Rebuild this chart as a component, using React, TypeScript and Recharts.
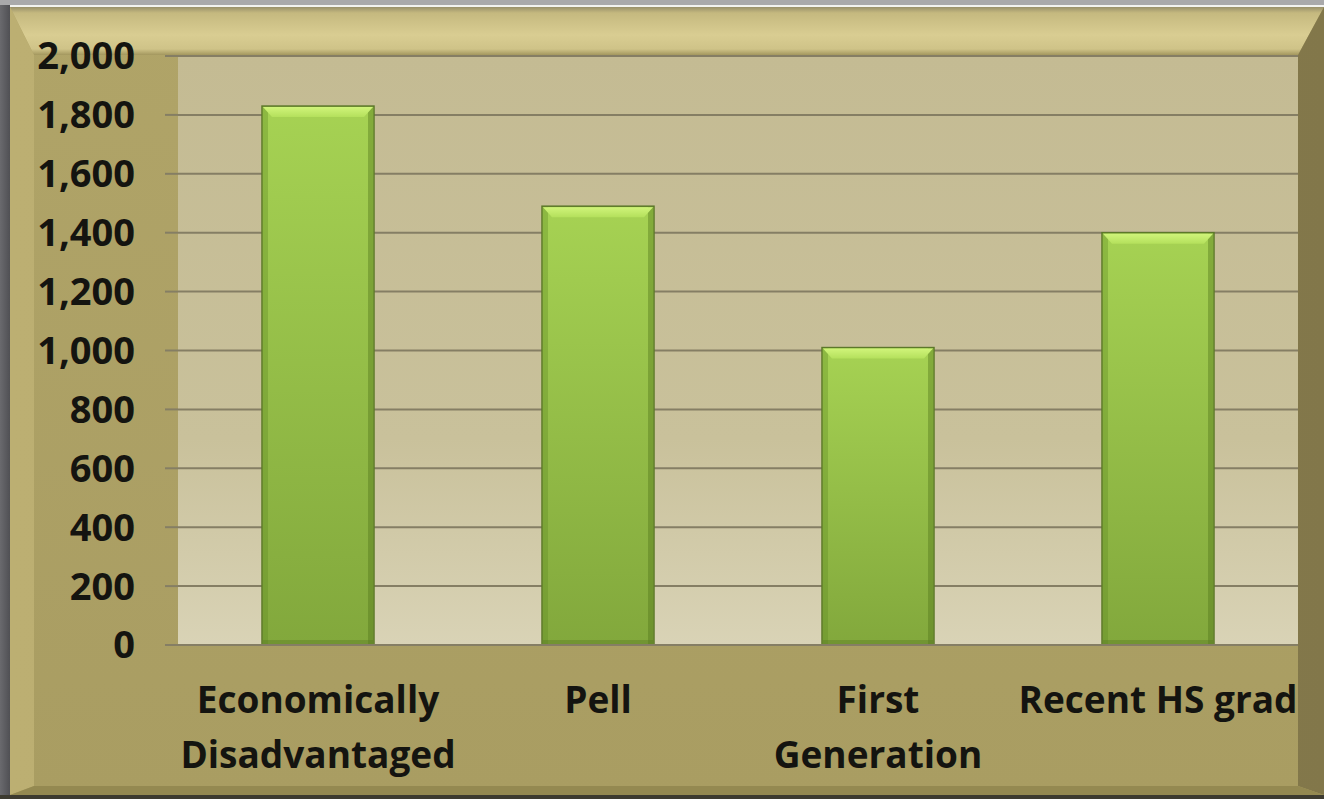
import { BarChart, Bar, XAxis, YAxis, CartesianGrid } from 'recharts'

// values
const categories = ['Economically\nDisadvantaged', 'Pell', 'First\nGeneration', 'Recent HS grad']
const students = [1830, 1490, 1010, 1400]
const yTicks = [0, 200, 400, 600, 800, 1000, 1200, 1400, 1600, 1800, 2000]

const chartData = categories.map((name, i) => ({ name, value: students[i] }))

const FONT = "'Open Sans', sans-serif"

const formatNum = (v: number) => v.toLocaleString('en-US')

// bevelled green bar, like the office "bevel" shape effect
const BevelBar = (props: any) => {
  const { x, y, width, height } = props
  if (!height || height <= 0) return null
  const b = 9
  return (
    <g>
      <rect x={x} y={y} width={width} height={height} fill="url(#barBody)" stroke="#5c7829" strokeWidth={1.5} />
      <rect x={x + 1} y={y + 1} width={5} height={height - 2} fill="#5f8a22" opacity={0.35} />
      <rect x={x + width - 6} y={y + 1} width={5} height={height - 2} fill="#4f7218" opacity={0.4} />
      <polygon
        points={`${x + 1},${y + 1} ${x + width - 1},${y + 1} ${x + width - 1 - b},${y + b + 2} ${x + 1 + b},${y + b + 2}`}
        fill="url(#barTop)"
      />
      <rect x={x + 1} y={y + height - 5} width={width - 2} height={4} fill="#5e7d26" opacity={0.45} />
    </g>
  )
}

const CategoryTick = (props: any) => {
  const { x, y, payload } = props
  const lines = String(payload.value).split('\n')
  return (
    <text x={x} y={y} textAnchor="middle" fill="#141410" fontFamily={FONT} fontWeight={700} fontSize={37}>
      {lines.map((line, i) => (
        <tspan key={i} x={x} dy={i === 0 ? 68 : 55}>
          {line}
        </tspan>
      ))}
    </text>
  )
}

const frameBox = { position: 'absolute' as const, left: 10, top: 7, width: 1314, height: 788 }

export default function App() {
  return (
    <div style={{ position: 'absolute', left: 0, top: 0, width: 1324, height: 799, background: 'linear-gradient(to right, #6a6a6e, #505054 10px)', overflow: 'hidden' }}>
      <div style={{ position: 'absolute', left: 0, top: 0, width: 1324, height: 5, background: '#a9a9ab' }} />
      <div style={{ position: 'absolute', left: 10, top: 5, width: 1314, height: 2, background: '#f2f2f0' }} />
      <div style={{ position: 'absolute', left: 0, top: 795, width: 1324, height: 4, background: '#3d3b30' }} />

      {/* frame */}
      <div style={{ ...frameBox, background: 'linear-gradient(to bottom, #b0a468, #a99d62)' }} />
      <div
        style={{
          ...frameBox,
          clipPath: 'polygon(0 0, 1314px 0, 1288px 48px, 24px 48px)',
          background: 'linear-gradient(to bottom, #99906a 0px, #c5b97f 6px, #d9cd92 28px, #cfc388 42px, #a3975e 48px)',
        }}
      />
      <div
        style={{
          ...frameBox,
          clipPath: 'polygon(0 0, 24px 48px, 24px 779px, 0 788px)',
          background: 'linear-gradient(to right, #bcaf72, #b3a66b)',
        }}
      />
      <div
        style={{
          ...frameBox,
          clipPath: 'polygon(1314px 0, 1314px 788px, 1288px 779px, 1288px 48px)',
          background: 'linear-gradient(to right, #968a55, #82774a)',
        }}
      />
      <div
        style={{
          ...frameBox,
          clipPath: 'polygon(0 788px, 24px 779px, 1288px 779px, 1314px 788px)',
          background: '#948951',
        }}
      />

      <div style={{ position: 'absolute', left: 0, top: 0 }}>
        <BarChart
          width={1324}
          height={799}
          data={chartData}
          margin={{ top: 56, right: 26, bottom: 34, left: 8 }}
          barCategoryGap="30%"
        >
          <defs>
            <linearGradient id="plotBg" x1="0" y1="0" x2="0" y2="1">
              <stop offset="0%" stopColor="#c4bb93" />
              <stop offset="65%" stopColor="#c9c19b" />
              <stop offset="100%" stopColor="#d9d3b6" />
            </linearGradient>
            <linearGradient id="barBody" x1="0" y1="0" x2="0" y2="1">
              <stop offset="0%" stopColor="#a6d253" />
              <stop offset="100%" stopColor="#82a83c" />
            </linearGradient>
            <linearGradient id="barTop" x1="0" y1="0" x2="0" y2="1">
              <stop offset="0%" stopColor="#d0f47a" />
              <stop offset="100%" stopColor="#b4e05c" />
            </linearGradient>
          </defs>
          <CartesianGrid vertical={false} fill="url(#plotBg)" fillOpacity={1} stroke="#857e64" strokeWidth={2} />
          <XAxis
            dataKey="name"
            interval={0}
            height={120}
            tick={<CategoryTick />}
            tickLine={false}
            tickSize={0}
            tickMargin={0}
            axisLine={{ stroke: '#857e64', strokeWidth: 2 }}
          />
          <YAxis
            domain={[0, 2000]}
            ticks={yTicks}
            interval={0}
            width={170}
            tickSize={13}
            tickMargin={30}
            tickFormatter={formatNum}
            axisLine={false}
            tickLine={{ stroke: '#857e64', strokeWidth: 2 }}
            tick={{ fill: '#141410', fontFamily: FONT, fontWeight: 700, fontSize: 38 }}
          />
          <Bar dataKey="value" shape={<BevelBar />} isAnimationActive={false} />
        </BarChart>
      </div>
    </div>
  )
}
